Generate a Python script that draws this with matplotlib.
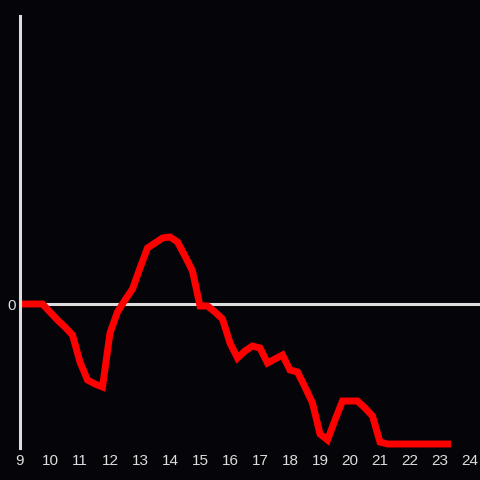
import matplotlib
matplotlib.use("Agg")
import matplotlib.pyplot as plt

# quarter-hour steps from 9:00 to 23:15
hours = [9 + 0.25 * i for i in range(58)]
values = [0, 0, 0, 0, -8, -16, -23, -31, -58, -76, -80, -83,
          -29, -8, 4, 15, 36, 56, 61, 66, 67, 62, 48, 33,
          -2, -2, -8, -15, -39, -54, -47, -42, -44, -59, -55, -51,
          -66, -68, -83, -99, -130, -136, -116, -97, -97, -97, -104, -112,
          -138, -140, -140, -140, -140, -140, -140, -140, -140, -140]
xticks = list(range(9, 25))

bg = "#050408"
fg = "#dddddd"

fig = plt.figure(figsize=(4.8, 4.8), dpi=100, facecolor=bg)
ax = fig.add_axes([20 / 480, 32 / 480, 460 / 480, 432 / 480], facecolor=bg)

ax.axhline(0, color=fg, lw=2.2, zorder=1)
ax.plot(hours, values, color="#ff0000", lw=5, solid_joinstyle="miter", zorder=2)

ax.set_xlim(9, 9 + 460 / 30)
ax.set_ylim(-144, 288)
ax.set_xticks(xticks)
ax.set_xticklabels([str(t) for t in xticks])
ax.set_yticks([0])
ax.set_yticklabels(["0"])
ax.tick_params(length=0, colors=fg, labelsize=11)
ax.tick_params(axis="x", pad=4)
ax.tick_params(axis="y", pad=3)
for lbl in ax.get_xticklabels() + ax.get_yticklabels():
    lbl.set_fontfamily("Liberation Sans")

for s in ["top", "right", "bottom"]:
    ax.spines[s].set_visible(False)
ax.spines["left"].set_color(fg)
ax.spines["left"].set_linewidth(2.2)

fig.savefig("out.png", dpi=100, facecolor=bg)
